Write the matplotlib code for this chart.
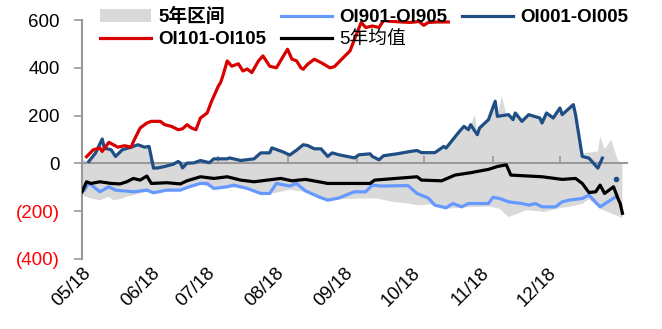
import numpy as np
import pandas as pd
import matplotlib
matplotlib.use('Agg')
import matplotlib.pyplot as plt
import matplotlib.dates as mdates
from matplotlib.patches import Patch
from matplotlib.lines import Line2D

plt.rcParams['font.family'] = ['Liberation Sans', 'Noto Sans CJK SC']

year = '2018'

# OI101-OI105 spread
red_dates = ['05-03', '05-06', '05-09', '05-10', '05-13', '05-17', '05-20', '05-23', '05-24', '05-27',
             '05-30', '06-01', '06-05', '06-07', '06-10', '06-13', '06-15', '06-17', '06-19', '06-21',
             '06-23', '06-26', '06-28', '07-01', '07-02', '07-03', '07-05', '07-07', '07-10', '07-12',
             '07-14', '07-16', '07-19', '07-21', '07-24', '07-27', '08-01', '08-03', '08-05', '08-07',
             '08-08', '08-10', '08-13', '08-16', '08-20', '08-22', '08-26', '08-29', '08-31', '09-03',
             '09-05', '09-08', '09-11', '09-13', '09-16', '09-21', '09-25', '09-29', '10-01', '10-03',
             '10-07', '10-12']
red_vals = [28, 57, 64, 50, 88, 68, 74, 68, 92, 148,
            169, 176, 176, 162, 155, 141, 145, 162, 148, 141,
            190, 211, 260, 323, 338, 365, 429, 407, 417, 387,
            395, 380, 429, 450, 407, 400, 478, 436, 430, 400,
            394, 415, 436, 422, 400, 405, 443, 471, 520, 590,
            569, 575, 569, 598, 595, 592, 590, 594, 578, 590,
            592, 592]

# OI001-OI005 spread
navy_dates = ['05-04', '05-07', '05-10', '05-11', '05-14', '05-16', '05-19', '05-23', '05-26', '05-29',
              '05-31', '06-02', '06-04', '06-07', '06-11', '06-13', '06-14', '06-15', '06-17', '06-20',
              '06-23', '06-27', '06-29', '07-05', '07-06', '07-11', '07-17', '07-20', '07-24', '07-25',
              '07-30', '08-02', '08-05', '08-08', '08-10', '08-13', '08-16', '08-19', '08-21', '08-24',
              '08-31', '09-02', '09-07', '09-08', '09-11', '09-13', '09-19', '09-25', '09-28', '09-30',
              '10-06', '10-10', '10-11', '10-14', '10-17', '10-19', '10-21', '10-22', '10-25', '10-26',
              '10-30', '11-02', '11-03', '11-08', '11-10', '11-11', '11-14', '11-17', '11-22', '11-23',
              '11-25', '11-28', '12-01', '12-02', '12-07', '12-08', '12-11', '12-14', '12-18', '12-20']
navy_vals = [8, 43, 102, 64, 57, 29, 57, 68, 78, 68,
             71, -20, -19, -13, -3, 8, 2, -19, 1, 2,
             12, 3, 19, 19, 23, 12, 19, 44, 44, 65,
             48, 35, 55, 78, 75, 61, 61, 29, 44, 36,
             23, 36, 40, 29, 15, 32, 40, 50, 54, 45,
             45, 71, 64, 99, 134, 155, 141, 162, 120, 148,
             183, 260, 197, 204, 183, 211, 176, 204, 190, 169,
             211, 190, 232, 204, 246, 204, 29, 22, -20, 22]
navy_last_date = '12-26'
navy_last_val = -65

# OI901-OI905 spread
sky_dates = ['05-02', '05-04', '05-09', '05-13', '05-16', '05-24', '05-30', '06-02', '06-08', '06-14',
             '06-18', '06-23', '06-26', '06-29', '07-05', '07-08', '07-14', '07-20', '07-24', '07-27',
             '08-02', '08-05', '08-09', '08-15', '08-19', '08-24', '08-29', '08-31', '09-05', '09-08',
             '09-12', '09-24', '09-28', '10-03', '10-06', '10-11', '10-14', '10-18', '10-21', '10-30',
             '11-01', '11-04', '11-08', '11-14', '11-17', '11-20', '11-23', '11-29', '12-02', '12-05',
             '12-11', '12-14', '12-19', '12-26']
sky_vals = [-112, -82, -119, -98, -112, -119, -112, -123, -112, -112,
            -98, -84, -84, -105, -98, -91, -105, -126, -126, -84,
            -95, -84, -115, -140, -154, -145, -126, -119, -119, -91,
            -95, -93, -126, -145, -175, -186, -168, -182, -168, -168,
            -142, -147, -161, -168, -175, -168, -182, -182, -161, -154,
            -147, -133, -182, -140]

# 5-year average
avg_dates = ['05-01', '05-03', '05-05', '05-09', '05-14', '05-18', '05-21', '05-24', '05-27', '05-30',
             '06-01', '06-08', '06-14', '06-17', '06-23', '06-29', '07-05', '07-11', '07-17', '07-23',
             '07-29', '08-03', '08-09', '08-15', '08-19', '09-07', '09-09', '09-28', '09-30', '10-09',
             '10-15', '10-22', '10-30', '11-03', '11-07', '11-09', '11-17', '11-23', '12-02', '12-08',
             '12-11', '12-14', '12-17', '12-19', '12-21', '12-25', '12-27', '12-28', '12-29']
avg_vals = [-119, -77, -84, -77, -84, -86, -77, -63, -70, -53,
            -84, -81, -86, -73, -56, -63, -56, -70, -77, -70,
            -63, -73, -67, -77, -84, -84, -70, -56, -70, -73,
            -49, -39, -25, -13, -6, -49, -53, -56, -67, -63,
            -84, -122, -119, -91, -126, -98, -147, -168, -209]

# 5-year range: upper and lower bounds
hi_dates = ['05-01', '05-04', '05-07', '05-10', '05-11', '05-14', '05-16', '05-19', '05-23', '05-26',
            '05-29', '05-31', '06-02', '06-15', '06-17', '06-20', '06-23', '06-27', '06-29', '07-05',
            '07-06', '07-11', '07-17', '07-20', '07-24', '07-25', '07-30', '08-02', '08-05', '08-08',
            '08-10', '08-13', '08-16', '08-19', '08-21', '08-24', '08-31', '09-02', '09-07', '09-08',
            '09-11', '09-13', '09-19', '09-25', '09-28', '09-30', '10-06', '10-10', '10-11', '10-14',
            '10-17', '10-19', '10-21', '10-22', '10-24', '10-25', '10-26', '10-30', '11-02', '11-03',
            '11-05', '11-07', '11-10', '11-11', '11-14', '11-17', '11-22', '11-23', '11-25', '11-28',
            '12-01', '12-02', '12-07', '12-08', '12-11', '12-14', '12-18', '12-19', '12-21', '12-24',
            '12-27', '12-29']
hi_vals = [15, 8, 43, 102, 64, 57, 29, 57, 68, 78,
           68, 71, 0, 0, 1, 2, 12, 3, 19, 19,
           23, 12, 19, 44, 44, 65, 48, 35, 55, 78,
           75, 61, 61, 29, 44, 36, 23, 36, 40, 29,
           15, 32, 40, 50, 54, 45, 45, 71, 64, 99,
           134, 155, 141, 162, 204, 120, 148, 183, 260, 197,
           281, 204, 183, 211, 176, 204, 190, 169, 211, 190,
           232, 204, 246, 204, 40, 45, 50, 113, 60, 99,
           10, 0]
lo_dates = ['05-01', '05-05', '05-09', '05-13', '05-15', '05-18', '05-21', '05-27', '05-30', '06-02',
            '06-08', '06-14', '06-18', '06-23', '06-29', '07-05', '07-14', '07-20', '07-24', '07-29',
            '08-02', '08-09', '08-15', '08-19', '08-24', '09-03', '09-10', '09-17', '09-24', '09-28',
            '10-04', '10-11', '10-18', '10-30', '11-04', '11-08', '11-16', '11-24', '12-01', '12-05',
            '12-11', '12-14', '12-19', '12-26', '12-29']
lo_vals = [-133, -147, -154, -140, -154, -150, -140, -126, -119, -125,
           -114, -114, -100, -86, -107, -100, -107, -128, -128, -119,
           -110, -120, -145, -156, -150, -147, -147, -161, -168, -175,
           -172, -190, -185, -180, -190, -225, -196, -203, -187, -182,
           -170, -150, -190, -217, -230]

yticks = [-400, -200, 0, 200, 400, 600]


def to_dates(days):
    return pd.to_datetime([f'{year}-{d}' for d in days])


fig = plt.figure(figsize=(6.62, 3.29), dpi=100)
ax = fig.add_axes([0.124, 0.213, 0.823, 0.726])

# shaded band between the 5-year high and low
band_x = np.concatenate([mdates.date2num(to_dates(hi_dates)), mdates.date2num(to_dates(lo_dates))[::-1]])
band_y = np.concatenate([hi_vals, lo_vals[::-1]])
ax.fill(band_x, band_y, color='#d9d9d9', lw=0, zorder=1)

ax.plot(to_dates(sky_dates), sky_vals, color='#6699ff', lw=2.3, zorder=3)
ax.plot(to_dates(avg_dates), avg_vals, color='black', lw=2.3, zorder=3)
ax.plot(to_dates(navy_dates), navy_vals, color='#1f4e85', lw=2.3, zorder=3)
ax.plot(to_dates([navy_last_date]), [navy_last_val], 'o', color='#1f4e85', ms=3, zorder=3)
ax.plot(to_dates(red_dates), red_vals, color='#d90000', lw=2.3, zorder=3)

ax.set_xlim(pd.Timestamp(f'{year}-05-01'), pd.Timestamp(f'{year}-12-31'))
ax.set_ylim(-400, 600)

# y axis: negatives in red with parentheses
ylabels = [f'({-v})' if v < 0 else str(v) for v in yticks]
ax.set_yticks(yticks, labels=ylabels)
for lab, v in zip(ax.get_yticklabels(), yticks):
    lab.set_color('red' if v < 0 else 'black')
ax.tick_params(axis='y', direction='out', length=6, width=1.2, color='#999999',
               labelsize=13.5, pad=10)

for side in ['top', 'right']:
    ax.spines[side].set_visible(False)
ax.spines['left'].set_color('#999999')
ax.spines['left'].set_linewidth(1.5)
ax.spines['bottom'].set_position(('data', 0))
ax.spines['bottom'].set_color('#999999')
ax.spines['bottom'].set_linewidth(1.5)
ax.spines['bottom'].set_zorder(2)

ax.xaxis.set_major_locator(mdates.MonthLocator())
ax.tick_params(axis='x', direction='in', length=5, width=1.2, color='#999999', labelbottom=False)

# month labels along the bottom edge
sec = ax.secondary_xaxis('bottom')
sec.xaxis.set_major_locator(mdates.MonthLocator(bymonth=range(5, 13)))
sec.xaxis.set_major_formatter(mdates.DateFormatter('%m/%y'))
sec.spines['bottom'].set_visible(False)
sec.tick_params(axis='x', length=0, labelsize=13.5, pad=4)
for lab in sec.get_xticklabels():
    lab.set_rotation(45)
    lab.set_ha('right')
    lab.set_va('top')
    lab.set_rotation_mode('anchor')

handles = [
    Patch(facecolor='#d9d9d9', edgecolor='none'),
    Line2D([], [], color='#d90000', lw=2.3),
    Line2D([], [], color='#6699ff', lw=2.3),
    Line2D([], [], color='black', lw=2.3),
    Line2D([], [], color='#1f4e85', lw=2.3),
]
labels = ['5年区间', 'OI101-OI105', 'OI901-OI905', '5年均值', 'OI001-OI005']
leg = fig.legend(handles, labels, ncol=3, loc='upper left', bbox_to_anchor=(0.151, 0.975),
                 frameon=False, borderpad=0, borderaxespad=0, handlelength=2.7,
                 handletextpad=0.4, columnspacing=0.8, labelspacing=0.25,
                 prop={'size': 13.5, 'weight': 'bold'})
leg.get_texts()[3].set_fontweight('normal')

fig.savefig('out.png', dpi=100)
